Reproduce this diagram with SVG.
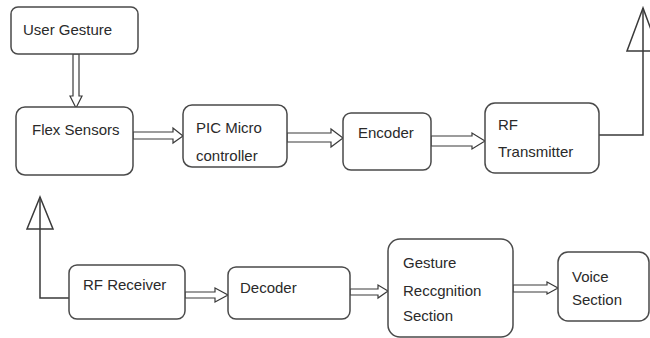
<svg xmlns="http://www.w3.org/2000/svg" width="650" height="338" viewBox="0 0 650 338">
  <style>
    .box { fill: #ffffff; stroke: #4a4a4a; stroke-width: 1.5; }
    .lbl { font-family: "Liberation Sans", Arial, sans-serif; font-size: 15px; fill: #2a2a2a; }
    .blk { fill: #ffffff; stroke: #3a3a3a; stroke-width: 1.2; stroke-linejoin: miter; }
    .wire { fill: none; stroke: #3a3a3a; stroke-width: 1.5; }
  </style>
  <rect width="650" height="338" fill="#ffffff"/>

  <!-- connectors: hollow block arrows and antenna feeds -->
  <g id="connectors">
    <!-- User Gesture -> Flex Sensors (downward) -->
    <polygon class="blk" points="73,54 79,54 79,96 82,96 76,108 70,96 73,96"/>
    <!-- Flex Sensors -> PIC Micro controller -->
    <polygon class="blk" points="133,132 173,132 173,128 183,136 173,143 173,139 133,139"/>
    <!-- PIC -> Encoder -->
    <polygon class="blk" points="287,133 331,133 331,129 343,138 331,147 331,142 287,142"/>
    <!-- Encoder -> RF Transmitter -->
    <polygon class="blk" points="431,136 472,136 472,133 485,141 472,149 472,146 431,146"/>
    <!-- RF Receiver -> Decoder -->
    <polygon class="blk" points="185,292 215,292 215,288 228,295 215,302 215,298 185,298"/>
    <!-- Decoder -> Gesture Recognition Section -->
    <polygon class="blk" points="350,289 378,289 378,285 388,291 378,298 378,295 350,295"/>
    <!-- Gesture Recognition Section -> Voice Section -->
    <polygon class="blk" points="513,285 547,285 547,282 558,288 547,294 547,292 513,292"/>

    <!-- transmit antenna -->
    <polyline class="wire" points="599,135 643,135 643,8"/>
    <polygon class="wire" points="643,8 627,51 659,51"/>
    <!-- receive antenna -->
    <polyline class="wire" points="69,298 40,298 40,197"/>
    <polygon class="wire" points="40,197 27,229 53,229"/>
  </g>

  <g id="user-gesture">
    <rect class="box" x="11" y="7" width="127" height="47" rx="7"/>
    <text class="lbl" x="23" y="35">User Gesture</text>
  </g>

  <g id="flex-sensors">
    <rect class="box" x="16" y="107" width="117" height="68" rx="9"/>
    <text class="lbl" x="32" y="135">Flex Sensors</text>
  </g>

  <g id="pic-micro">
    <rect class="box" x="183" y="105" width="104" height="62" rx="9"/>
    <text class="lbl" x="196" y="133">PIC Micro</text>
    <text class="lbl" x="196" y="161">controller</text>
  </g>

  <g id="encoder">
    <rect class="box" x="343" y="113" width="88" height="57" rx="8"/>
    <text class="lbl" x="358" y="138">Encoder</text>
  </g>

  <g id="rf-transmitter">
    <rect class="box" x="485" y="103" width="114" height="70" rx="10"/>
    <text class="lbl" x="498" y="130">RF</text>
    <text class="lbl" x="498" y="157">Transmitter</text>
  </g>

  <g id="rf-receiver">
    <rect class="box" x="69" y="265" width="116" height="54" rx="8"/>
    <text class="lbl" x="83" y="290">RF Receiver</text>
  </g>

  <g id="decoder">
    <rect class="box" x="228" y="267" width="122" height="52" rx="8"/>
    <text class="lbl" x="240" y="293">Decoder</text>
  </g>

  <g id="gesture-recognition">
    <rect class="box" x="388" y="239" width="125" height="98" rx="12"/>
    <text class="lbl" x="403" y="268">Gesture</text>
    <text class="lbl" x="403" y="296">Reccgnition</text>
    <text class="lbl" x="403" y="321">Section</text>
  </g>

  <g id="voice-section">
    <rect class="box" x="558" y="252" width="91" height="69" rx="10"/>
    <text class="lbl" x="572" y="282">Voice</text>
    <text class="lbl" x="572" y="305">Section</text>
  </g>
</svg>
